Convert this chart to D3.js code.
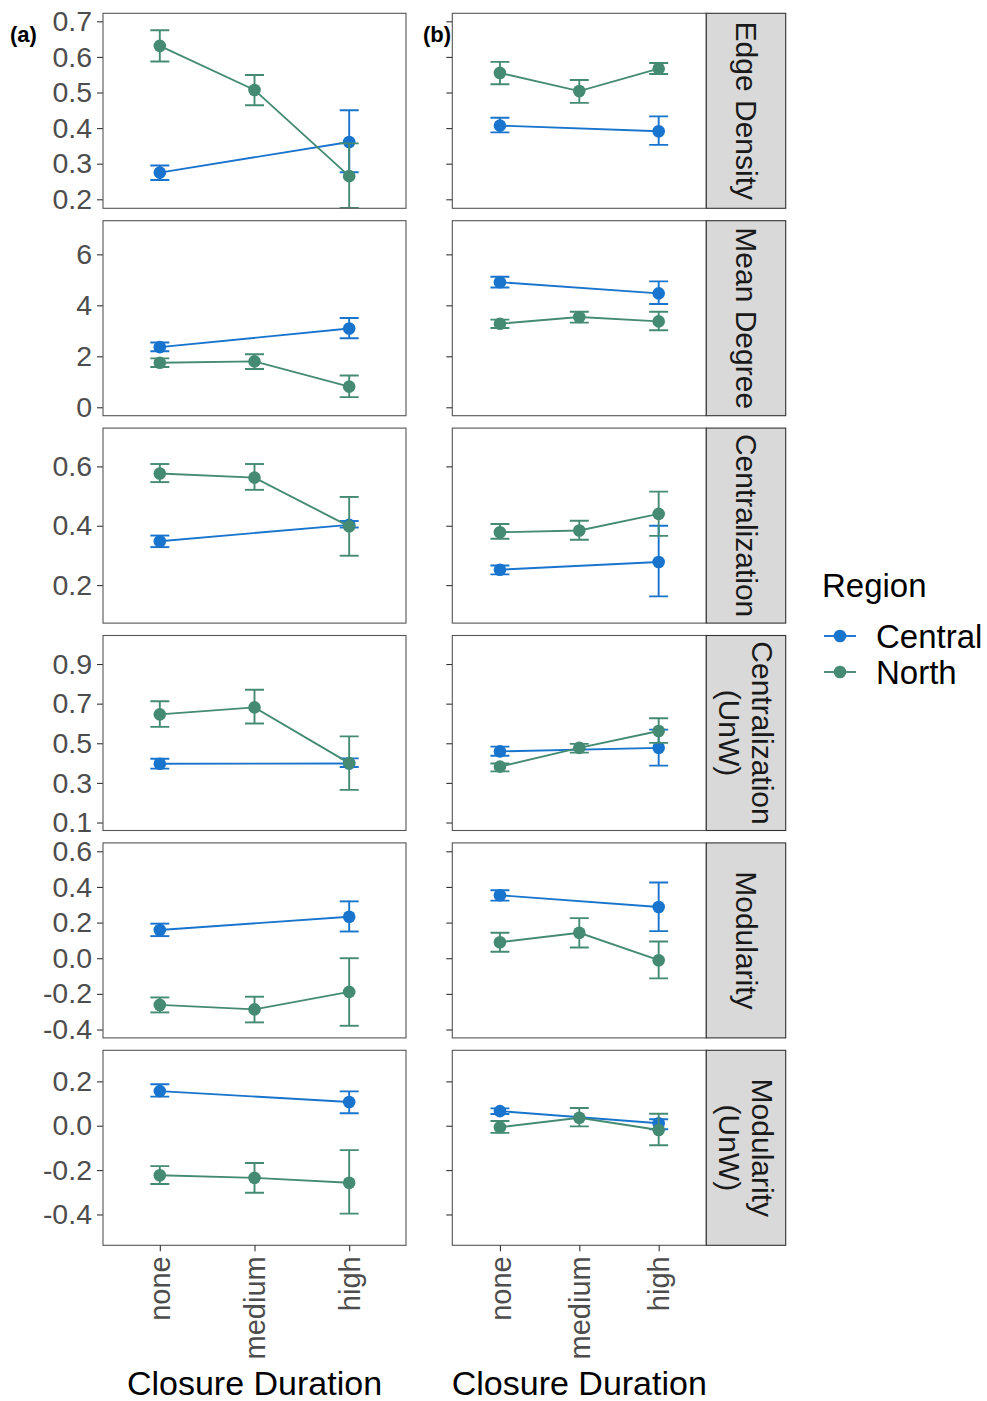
<!DOCTYPE html>
<html><head><meta charset="utf-8">
<script src="https://cdn.jsdelivr.net/npm/d3@7"></script>
<style>body{margin:0;background:#fff}svg{display:block;font-family:"Liberation Sans",Arial,sans-serif}</style>
</head><body><svg id="c" width="987" height="1401"></svg>
<script>
// ---------- data ----------
const durations = ["none", "medium", "high"];
const regions = ["Central", "North"];
const metrics = ["Edge Density", "Mean Degree", "Centralization", "Centralization\n(UnW)", "Modularity", "Modularity\n(UnW)"];
const yDomains = [[0.1747, 0.7225], [-0.33, 7.32], [0.072, 0.729], [0.0597, 1.044], [-0.447, 0.647], [-0.539, 0.34]];
const yTicks = [
  ["0.2", "0.3", "0.4", "0.5", "0.6", "0.7"],
  ["0", "2", "4", "6"],
  ["0.2", "0.4", "0.6"],
  ["0.1", "0.3", "0.5", "0.7", "0.9"],
  ["-0.4", "-0.2", "0.0", "0.2", "0.4", "0.6"],
  ["-0.4", "-0.2", "0.0", "0.2"]
];
// panel (a): rows = metrics, columns = none/medium/high
const aCentralMean = [[0.275, null, 0.361], [2.36, null, 3.09], [0.348, null, 0.403], [0.397, null, 0.398], [0.158, null, 0.233], [0.156, null, 0.107]];
const aCentralLo   = [[0.254, null, 0.276], [2.20, null, 2.71], [0.328, null, 0.394], [0.372, null, 0.380], [0.124, null, 0.150], [0.131, null, 0.056]];
const aCentralHi   = [[0.295, null, 0.450], [2.54, null, 3.50], [0.367, null, 0.416], [0.422, null, 0.424], [0.194, null, 0.319], [0.187, null, 0.155]];
const aNorthMean   = [[0.631, 0.507, 0.265], [1.75, 1.80, 0.81], [0.576, 0.562, 0.398], [0.646, 0.681, 0.400], [-0.262, -0.287, -0.189], [-0.223, -0.235, -0.257]];
const aNorthLo     = [[0.587, 0.464, 0.176], [1.58, 1.50, 0.40], [0.547, 0.521, 0.299], [0.583, 0.600, 0.265], [-0.304, -0.360, -0.379], [-0.263, -0.302, -0.396]];
const aNorthHi     = [[0.675, 0.549, 0.357], [1.92, 2.08, 1.25], [0.608, 0.608, 0.497], [0.712, 0.770, 0.535], [-0.220, -0.216, 0.000], [-0.182, -0.168, -0.110]];
// panel (b)
const bCentralMean = [[0.407, null, 0.391], [4.91, null, 4.47], [0.252, null, 0.278], [0.459, null, 0.477], [0.353, null, 0.287], [0.066, null, 0.011]];
const bCentralLo   = [[0.388, null, 0.353], [4.70, null, 4.05], [0.236, null, 0.162], [0.437, null, 0.387], [0.323, null, 0.152], [0.053, null, -0.016]];
const bCentralHi   = [[0.429, null, 0.433], [5.12, null, 4.94], [0.266, null, 0.400], [0.483, null, 0.569], [0.381, null, 0.425], [0.078, null, 0.029]];
const bNorthMean   = [[0.555, 0.504, 0.567], [3.28, 3.54, 3.37], [0.378, 0.384, 0.440], [0.382, 0.477, 0.562], [0.090, 0.143, -0.011], [-0.007, 0.036, -0.019]];
const bNorthLo     = [[0.523, 0.471, 0.552], [3.11, 3.32, 3.02], [0.356, 0.353, 0.366], [0.358, 0.453, 0.502], [0.036, 0.060, -0.113], [-0.032, -0.003, -0.088]];
const bNorthHi     = [[0.586, 0.535, 0.583], [3.44, 3.75, 3.75], [0.406, 0.417, 0.515], [0.398, 0.497, 0.626], [0.143, 0.225, 0.094], [0.021, 0.080, 0.054]];

const colors = {Central: "#1874CD", North: "#458B74"};

// ---------- layout ----------
const svg = d3.select("#c");
const rowTop0 = 13.3, rowPitch = 207.4, panelH = 195;
const cols = [
  {x0: 103, x1: 406, label: "(a)", lx: 10, showLabels: true,
   series: {Central: [aCentralMean, aCentralLo, aCentralHi], North: [aNorthMean, aNorthLo, aNorthHi]}},
  {x0: 452.3, x1: 706.3, label: "(b)", lx: 423, showLabels: false, strip: [706.3, 785.7],
   series: {Central: [bCentralMean, bCentralLo, bCentralHi], North: [bNorthMean, bNorthLo, bNorthHi]}}
];

cols.forEach(col => {
  const x = d3.scalePoint().domain(durations).range([col.x0, col.x1]).padding(0.6);
  metrics.forEach((m, r) => {
    const top = rowTop0 + r * rowPitch, bot = top + panelH;
    const y = d3.scaleLinear().domain(yDomains[r]).range([bot, top]);
    const g = svg.append("g");
    g.append("rect").attr("x", col.x0).attr("y", top).attr("width", col.x1 - col.x0).attr("height", panelH)
      .attr("fill", "#fff");
    const ya = g.append("g").attr("transform", `translate(${col.x0},0)`)
      .call(d3.axisLeft(y).tickValues(yTicks[r].map(Number)).tickSize(6).tickPadding(5)
        .tickFormat((d, i) => col.showLabels ? yTicks[r][i] : ""));
    ya.select(".domain").remove();
    ya.selectAll(".tick line").attr("stroke", "#333").attr("stroke-width", 1.1);
    ya.selectAll(".tick text").attr("fill", "#4D4D4D").attr("font-size", 28.5).attr("font-family", "Liberation Sans, Arial, sans-serif");
    const cid = `clip-${col.label.replace(/\W/g, "")}-${r}`;
    svg.append("clipPath").attr("id", cid).append("rect")
      .attr("x", col.x0).attr("y", top).attr("width", col.x1 - col.x0).attr("height", panelH);
    const pg = g.append("g").attr("clip-path", `url(#${cid})`);
    regions.forEach(reg => {
      const [mean, lo, hi] = col.series[reg];
      const pts = durations.map((d, i) => ({d, m: mean[r][i], lo: lo[r][i], hi: hi[r][i]})).filter(p => p.m !== null);
      const c = colors[reg];
      pg.append("path").datum(pts)
        .attr("d", d3.line().x(p => x(p.d)).y(p => y(p.m)))
        .attr("fill", "none").attr("stroke", c).attr("stroke-width", 1.9);
      const eb = pg.selectAll(null).data(pts).enter().append("g").attr("stroke", c).attr("stroke-width", 1.9);
      eb.append("line").attr("x1", p => x(p.d)).attr("x2", p => x(p.d)).attr("y1", p => y(p.lo)).attr("y2", p => y(p.hi));
      eb.append("line").attr("x1", p => x(p.d) - 9.5).attr("x2", p => x(p.d) + 9.5).attr("y1", p => y(p.lo)).attr("y2", p => y(p.lo));
      eb.append("line").attr("x1", p => x(p.d) - 9.5).attr("x2", p => x(p.d) + 9.5).attr("y1", p => y(p.hi)).attr("y2", p => y(p.hi));
      pg.selectAll(null).data(pts).enter().append("circle")
        .attr("cx", p => x(p.d)).attr("cy", p => y(p.m)).attr("r", 6.3).attr("fill", c);
    });
    g.append("rect").attr("x", col.x0).attr("y", top).attr("width", col.x1 - col.x0).attr("height", panelH)
      .attr("fill", "none").attr("stroke", "#555").attr("stroke-width", 1.1);
    if (col.strip) {
      const [s0, s1] = col.strip;
      g.append("rect").attr("x", s0).attr("y", top).attr("width", s1 - s0).attr("height", panelH)
        .attr("fill", "#D9D9D9").attr("stroke", "#333").attr("stroke-width", 1.1);
      const lines = m.split("\n");
      const cx = (s0 + s1) / 2, cy = top + panelH / 2;
      const t = g.append("text").attr("transform", `translate(${cx},${cy}) rotate(90)`)
        .attr("text-anchor", "middle").attr("font-size", 30).attr("fill", "#1A1A1A");
      const lh = 33;
      lines.forEach((ln, i) => {
        t.append("tspan").attr("x", 0).attr("y", (i - (lines.length - 1) / 2) * lh).attr("dy", "0.35em").text(ln);
      });
    }
    if (r === metrics.length - 1) {
      const xa = g.append("g").attr("transform", `translate(0,${bot})`)
        .call(d3.axisBottom(x).tickSize(6).tickPadding(6));
      xa.select(".domain").remove();
      xa.selectAll(".tick line").attr("stroke", "#333").attr("stroke-width", 1.1);
      xa.selectAll(".tick text").attr("fill", "#4D4D4D").attr("font-size", 29)
        .attr("font-family", "Liberation Sans, Arial, sans-serif")
        .attr("transform", "rotate(-90)").attr("text-anchor", "end")
        .attr("x", -11).attr("y", 0).attr("dy", "0.35em");
      svg.append("text").attr("x", (col.x0 + col.x1) / 2).attr("y", 1395)
        .attr("text-anchor", "middle").attr("font-size", 34).attr("fill", "#000").text("Closure Duration");
    }
  });
  svg.append("text").attr("x", col.lx).attr("y", 42).attr("font-size", 22).attr("font-weight", "bold")
    .attr("fill", "#000").text(col.label);
});

// legend
const lg = svg.append("g");
lg.append("text").attr("x", 822).attr("y", 597).attr("font-size", 33).attr("fill", "#000").text("Region");
regions.forEach((reg, i) => {
  const yy = 636 + i * 36;
  lg.append("line").attr("x1", 824).attr("x2", 856).attr("y1", yy).attr("y2", yy)
    .attr("stroke", colors[reg]).attr("stroke-width", 1.9);
  lg.append("circle").attr("cx", 840).attr("cy", yy).attr("r", 6.3).attr("fill", colors[reg]);
  lg.append("text").attr("x", 876).attr("y", yy).attr("dy", "0.35em").attr("font-size", 33).attr("fill", "#000").text(reg);
});
</script></body></html>
